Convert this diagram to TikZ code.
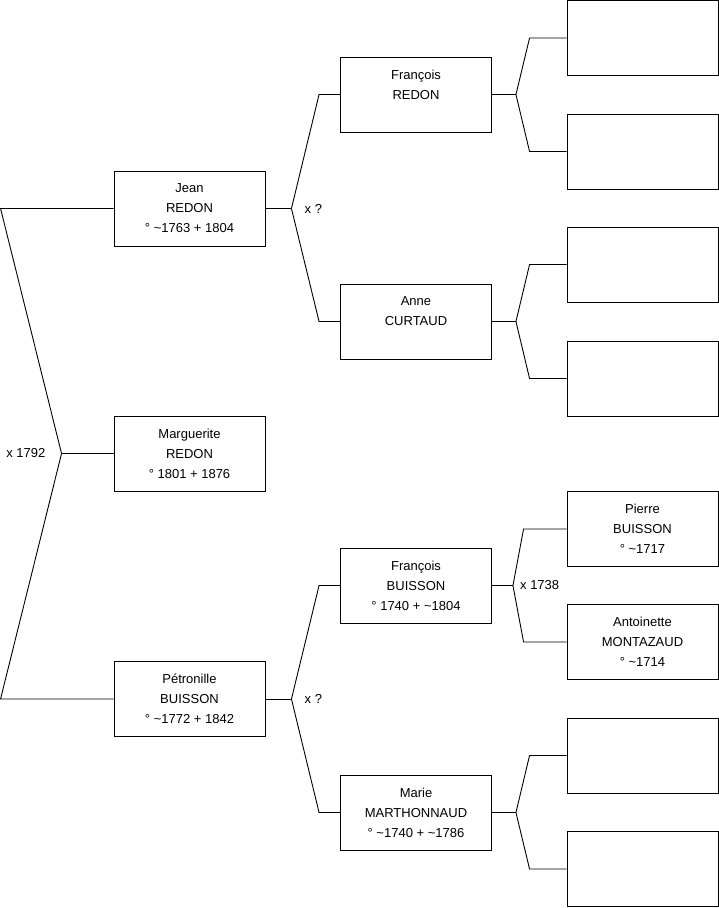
\documentclass[tikz,border=0pt]{standalone}
\usepackage{fontspec}
\setmainfont{Liberation Sans}
\usetikzlibrary{positioning}

\begin{document}
\begin{tikzpicture}[x=1pt, y=-1pt,
    person/.style={draw=black, line width=0.9pt, fill=white,
                   minimum width=151pt, minimum height=75pt, inner sep=0pt,
                   align=center, font=\fontsize{13}{20}\selectfont},
    link/.style={draw=black, line width=0.9pt},
    union/.style={font=\fontsize{13}{14}\selectfont, inner sep=0pt},
]
  \useasboundingbox (0,0) rectangle (719,908);

  % first generation
  \node[person] (ma) at (189.5,453.5) {Marguerite\\REDON\\° 1801 + 1876};

  % parents
  \node[person] (je) at (189.5,208.5) {Jean\\REDON\\° \textasciitilde1763 + 1804};
  \node[person] (pe) at (189.5,699)   {Pétronille\\BUISSON\\° \textasciitilde1772 + 1842};

  % grandparents
  \node[person] (fr) at (416,94.5)  {François\\REDON\\~};
  \node[person] (an) at (416,321.5) {Anne\\CURTAUD\\~};
  \node[person] (fb) at (416,585.5) {François\\BUISSON\\° 1740 + \textasciitilde1804};
  \node[person] (mm) at (416,812.5) {Marie\\MARTHONNAUD\\° \textasciitilde1740 + \textasciitilde1786};

  % great-grandparents
  \node[person] (g1) at (642.5,38)    {};
  \node[person] (g2) at (642.5,151.5) {};
  \node[person] (g3) at (642.5,264.5) {};
  \node[person] (g4) at (642.5,378.5) {};
  \node[person] (pb) at (642.5,529)   {Pierre\\BUISSON\\° \textasciitilde1717};
  \node[person] (am) at (642.5,642)   {Antoinette\\MONTAZAUD\\° \textasciitilde1714};
  \node[person] (g7) at (642.5,755.5) {};
  \node[person] (g8) at (642.5,869)   {};

  % forks
  \coordinate (xma) at ([xshift=-52]ma.west);
  \draw[link] (ma.west) -- (xma);
  \draw[link] (xma) -- ([xshift=-113]je.west) -- (je.west);
  \draw[link] (xma) -- ([xshift=-113]pe.west) -- (pe.west);

  \coordinate (xje) at ([xshift=26]je.east);
  \draw[link] (je.east) -- (xje);
  \draw[link] (xje) -- ([xshift=-21]fr.west) -- (fr.west);
  \draw[link] (xje) -- ([xshift=-21]an.west) -- (an.west);

  \coordinate (xpe) at ([xshift=26]pe.east);
  \draw[link] (pe.east) -- (xpe);
  \draw[link] (xpe) -- ([xshift=-21]fb.west) -- (fb.west);
  \draw[link] (xpe) -- ([xshift=-21]mm.west) -- (mm.west);

  \coordinate (xfr) at ([xshift=24]fr.east);
  \draw[link] (fr.east) -- (xfr);
  \draw[link] (xfr) -- ([xshift=-37]g1.west) -- (g1.west);
  \draw[link] (xfr) -- ([xshift=-37]g2.west) -- (g2.west);

  \coordinate (xan) at ([xshift=24]an.east);
  \draw[link] (an.east) -- (xan);
  \draw[link] (xan) -- ([xshift=-37]g3.west) -- (g3.west);
  \draw[link] (xan) -- ([xshift=-37]g4.west) -- (g4.west);

  \coordinate (xfb) at ([xshift=21]fb.east);
  \draw[link] (fb.east) -- (xfb);
  \draw[link] (xfb) -- ([xshift=-43]pb.west) -- (pb.west);
  \draw[link] (xfb) -- ([xshift=-43]am.west) -- (am.west);

  \coordinate (xmm) at ([xshift=24]mm.east);
  \draw[link] (mm.east) -- (xmm);
  \draw[link] (xmm) -- ([xshift=-37]g7.west) -- (g7.west);
  \draw[link] (xmm) -- ([xshift=-37]g8.west) -- (g8.west);

  % marriages
  \node[union, left=16pt of xma]  (u1) {x 1792};
  \node[union, right=13pt of xje] (u2) {x ?};
  \node[union, right=13pt of xpe] (u3) {x ?};
  \node[union, right=7pt of xfb]  (u4) {x 1738};
\end{tikzpicture}
\end{document}
